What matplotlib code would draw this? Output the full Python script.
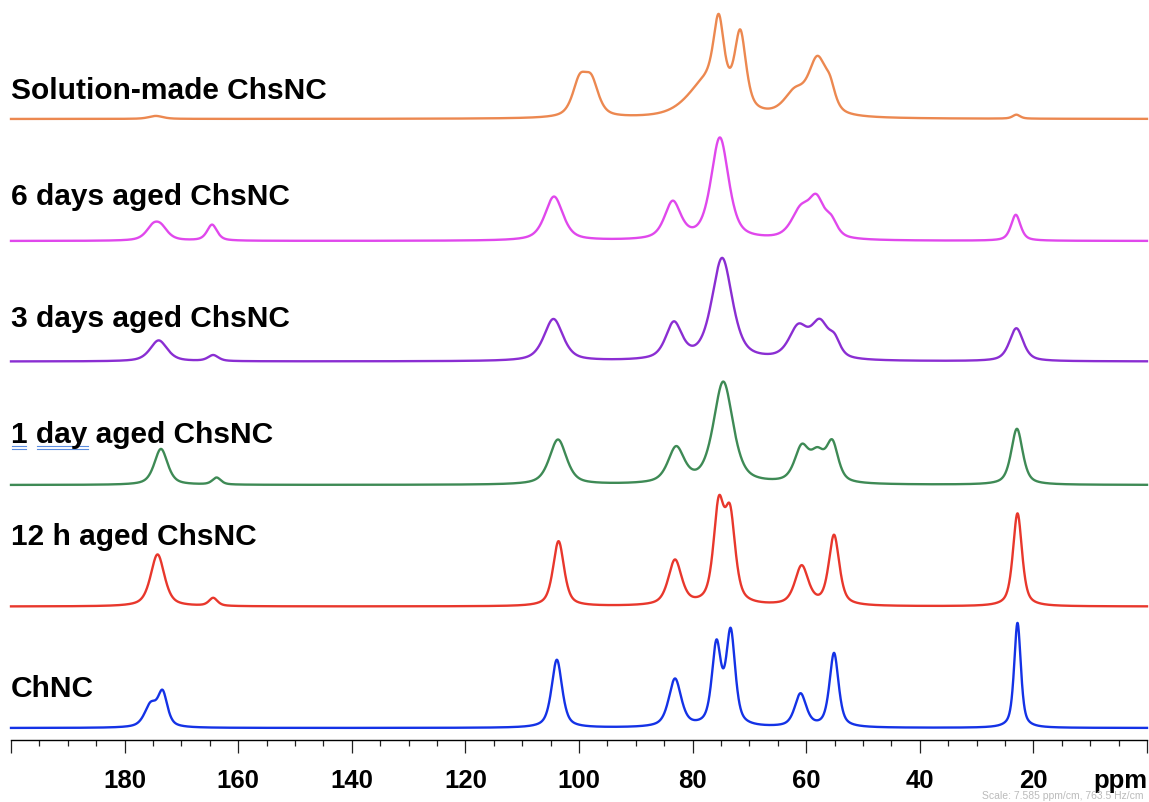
import numpy as np
import matplotlib
matplotlib.use("Agg")
import matplotlib.pyplot as plt
from matplotlib.ticker import MultipleLocator

plt.rcParams["font.family"] = ["Liberation Sans", "DejaVu Sans"]

# 13C CP/MAS peak tables: position (ppm), height (a.u.), full width at half max (ppm)
chnc_ppm = [175.4, 173.3, 103.9, 83.1, 75.8, 73.3, 61.0, 55.1, 22.8]
chnc_height = [22, 33, 68, 48, 80, 93, 33, 74, 105]
chnc_fwhm = [2.6, 2.0, 2.2, 2.6, 1.9, 1.9, 2.4, 1.9, 1.4]

h12_ppm = [174.2, 164.4, 103.6, 83.1, 75.4, 73.4, 60.8, 55.1, 22.8]
h12_height = [52, 8, 65, 45, 94, 84, 39, 70, 93]
h12_fwhm = [2.9, 1.8, 2.3, 2.8, 2.2, 2.2, 2.8, 2.2, 1.9]

d1_ppm = [173.6, 163.8, 103.7, 82.9, 74.6, 60.8, 58.0, 55.4, 22.9]
d1_height = [36, 7, 45, 35, 102, 34, 26, 38, 56]
d1_fwhm = [2.8, 1.8, 3.6, 3.4, 4.1, 3.0, 3.0, 2.5, 2.4]

d3_ppm = [174.0, 164.4, 104.5, 83.3, 74.8, 61.4, 57.6, 55.0, 23.0]
d3_height = [21, 6, 42, 36, 102, 31, 35, 15, 33]
d3_fwhm = [3.6, 2.2, 4.0, 3.4, 4.3, 3.9, 3.7, 2.4, 2.9]

d6_ppm = [175.0, 173.6, 164.6, 104.4, 83.5, 75.2, 61.0, 58.2, 55.6, 23.1]
d6_height = [12, 11, 16, 44, 37, 102, 27, 36, 15, 26]
d6_fwhm = [3.0, 3.0, 2.1, 3.8, 3.4, 3.7, 3.9, 3.3, 2.6, 2.0]

sol_ppm = [174.5, 99.9, 97.8, 77.5, 75.4, 71.6, 62.0, 58.0, 55.8, 23.0]
sol_height = [3, 34, 33, 35, 72, 75, 22, 55, 18, 4]
sol_fwhm = [3.0, 3.0, 3.0, 8.0, 2.2, 2.4, 4.5, 3.8, 2.2, 1.6]

sample_names = ["ChNC", "12 h aged ChsNC", "1 day aged ChsNC",
                "3 days aged ChsNC", "6 days aged ChsNC", "Solution-made ChsNC"]
tick_values = [180, 160, 140, 120, 100, 80, 60, 40, 20]

peak_tables = [
    (chnc_ppm, chnc_height, chnc_fwhm),
    (h12_ppm, h12_height, h12_fwhm),
    (d1_ppm, d1_height, d1_fwhm),
    (d3_ppm, d3_height, d3_fwhm),
    (d6_ppm, d6_height, d6_fwhm),
    (sol_ppm, sol_height, sol_fwhm),
]

# stacking layout and styling
colors = ["#1432E6", "#E8372C", "#3E8A55", "#8A2ED2", "#E048EC", "#EC8850"]
offsets = [12, 133.5, 255, 378.5, 499, 621]
label_baselines_px = [697, 545, 443, 327, 205, 99]

W, H = 1149, 803


def pseudo_voigt(x, center, height, fwhm, eta=0.6):
    hw = fwhm / 2.0
    u = (x - center) / hw
    return height * (eta / (1.0 + u ** 2) + (1 - eta) * np.exp(-np.log(2) * u ** 2))


def spectrum(x, ppm, height, fwhm):
    y = np.zeros_like(x)
    for c, h, w in zip(ppm, height, fwhm):
        y += pseudo_voigt(x, c, h, w)
    return y


fig = plt.figure(figsize=(W / 100, H / 100), dpi=100)
ax = fig.add_axes([11 / W, 62 / H, 1136 / W, 741 / H])

x = np.linspace(200, 0, 6001)
for (ppm, height, fwhm), col, off in zip(peak_tables, colors, offsets):
    ax.plot(x, spectrum(x, ppm, height, fwhm) + off, color=col, lw=1.7,
            solid_joinstyle="round", clip_on=False)

ax.set_xlim(200, 0)
ax.set_ylim(0, 741)
for side in ["left", "right", "top"]:
    ax.spines[side].set_visible(False)
ax.spines["bottom"].set_linewidth(1.0)
ax.yaxis.set_visible(False)

ax.set_xticks(np.arange(0, 201, 20))
ax.set_xticklabels([str(v) if v in tick_values else "" for v in np.arange(0, 201, 20)],
                   fontsize=18.5, fontweight="bold")
ax.xaxis.set_minor_locator(MultipleLocator(5))
ax.tick_params(axis="x", which="major", length=9.4, width=0.9, pad=10.5, color="#222222")
ax.tick_params(axis="x", which="minor", length=4.5, width=0.9, color="#222222")

# sample names
for name, base in zip(sample_names, label_baselines_px):
    fig.text(11 / W, 1 - base / H, name, fontsize=21.5, fontweight="bold",
             va="baseline", ha="left")

# spell-check style double underlines beneath "1 day"
for y_px in (446.7, 449.5):
    for x0, x1 in ((12, 26.5), (37, 88)):
        fig.add_artist(plt.Line2D([x0 / W, x1 / W], [1 - y_px / H, 1 - y_px / H],
                                  color="#5B8CDE", lw=0.8))

fig.text(1093 / W, 1 - 788 / H, "ppm", fontsize=18.5, fontweight="bold",
         va="baseline", ha="left")
fig.text(1144 / W, 1 - 796 / H, "Scale: 7.585 ppm/cm, 763.5 Hz/cm", fontsize=7.5,
         color="#BBBBBB", va="center", ha="right")

fig.savefig("out.png", dpi=100)
